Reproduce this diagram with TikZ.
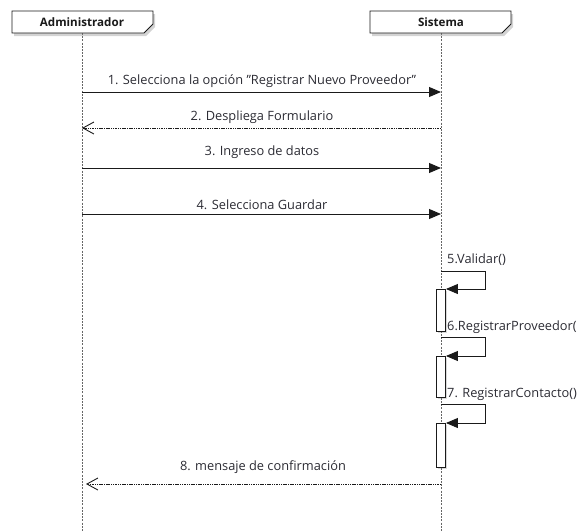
\documentclass[tikz,border=0pt]{standalone}
\usepackage{fontspec}
\setmainfont{Open Sans}
\usetikzlibrary{arrows.meta,shadows}
\definecolor{ink}{HTML}{1A1A1A}
\definecolor{txt}{HTML}{2B2B33}
\tikzset{
  headbox/.style={draw=ink, line width=0.9pt, fill=white,
    drop shadow={shadow xshift=2pt, shadow yshift=-3pt, opacity=0.35}},
  headtext/.style={font=\fontsize{11.6}{13}\selectfont\bfseries, text=ink},
  lifeline/.style={draw=black!60, line width=0.9pt, dash pattern=on 2pt off 1.2pt},
  syncmsg/.style={draw=ink, line width=0.9pt, -{Triangle[length=12pt,width=10pt]}},
  retmsg/.style={draw=ink, line width=0.6pt, dash pattern=on 1.5pt off 0.8pt,
    -{Straight Barb[length=11pt,width=12pt,line width=0.9pt]}},
  msglabel/.style={font=\fontsize{12.8}{15}\selectfont, text=txt, inner sep=0pt},
  actbox/.style={draw=ink, line width=0.9pt, fill=white,
    drop shadow={shadow xshift=1.5pt, shadow yshift=-2pt, opacity=0.3}},
}
\begin{document}
\begin{tikzpicture}[x=1pt,y=-1pt]
\useasboundingbox (0,0) rectangle (582,531);

% lifelines
\coordinate (adminTop) at (82,33);
\coordinate (adminEnd) at (82,531);
\coordinate (sysTop) at (441,33);
\coordinate (sysEnd) at (441,531);
\draw[lifeline] (adminTop) -- (adminEnd);
\draw[lifeline] (sysTop) -- (sysEnd);

% participant headers with cut corner
\path[headbox] (12,11) -- (153,11) -- (153,24) -- (144,33) -- (12,33) -- cycle;
\node[headtext] (admin) at (82,22) {Administrador};
\path[headbox] (370,11) -- (511,11) -- (511,24) -- (502,33) -- (370,33) -- cycle;
\node[headtext] (sys) at (441,22) {Sistema};

% endpoints on the lifelines
\coordinate (a1) at (82,92);   \coordinate (s1) at (441,92);
\coordinate (s2) at (441,128); \coordinate (a2) at (82,128);
\coordinate (a3) at (82,168);  \coordinate (s3) at (441,168);
\coordinate (a4) at (82,214);  \coordinate (s4) at (441,214);
\coordinate (s8) at (441,484); \coordinate (a8) at (86,484);

% messages between participants
\draw[syncmsg] (a1) -- (s1);
\node[msglabel] (l1) at (262,81) {1. Selecciona la opción \symbol{34}Registrar Nuevo Proveedor\symbol{34}};
\draw[retmsg] (s2) -- (a2);
\node[msglabel] (l2) at (262,117) {2. Despliega Formulario};
\draw[syncmsg] (a3) -- (s3);
\node[msglabel] (l3) at (262,152) {3. Ingreso de datos};
\draw[syncmsg] (a4) -- (s4);
\node[msglabel] (l4) at (262,205) {4. Selecciona Guardar};
\draw[retmsg] (s8) -- (a8);
\node[msglabel] (l8) at (263,467) {8. mensaje de confirmación};

% activations
\node[actbox, minimum width=9pt, minimum height=42pt, inner sep=0pt, anchor=north] (act5) at (441,289) {};
\node[actbox, minimum width=9pt, minimum height=41pt, inner sep=0pt, anchor=north] (act6) at (441,356) {};
\node[actbox, minimum width=9pt, minimum height=44pt, inner sep=0pt, anchor=north] (act7) at (441,423) {};

% self calls
\coordinate (s5) at (441,271);
\coordinate (s6) at (441,337);
\coordinate (s7) at (441,404);
\draw[syncmsg] (s5) -- (485,271) -- (485,289) -- (act5.north east);
\node[msglabel, anchor=west] (l5) at (447,260) {5.Validar()};
\draw[syncmsg] (s6) -- (485,337) -- (485,356) -- (act6.north east);
\node[msglabel, anchor=west] (l6) at (447,327) {6.RegistrarProveedor(};
\draw[syncmsg] (s7) -- (485,404) -- (485,423) -- (act7.north east);
\node[msglabel, anchor=west] (l7) at (447,394) {7. RegistrarContacto()};
\end{tikzpicture}
\end{document}
